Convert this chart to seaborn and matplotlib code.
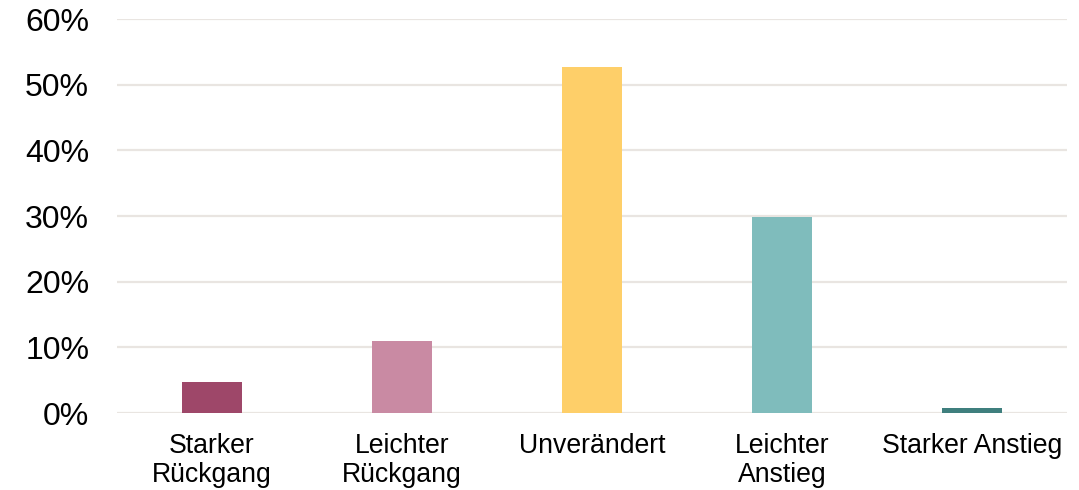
import matplotlib
matplotlib.use("Agg")
import matplotlib.pyplot as plt
import seaborn as sns
import pandas as pd
from matplotlib.ticker import FuncFormatter

categories = ["Starker\nRückgang", "Leichter\nRückgang", "Unverändert", "Leichter\nAnstieg", "Starker Anstieg"]
shares = [4.7, 11.0, 52.7, 29.9, 0.8]
colors = ["#9E4769", "#C98AA3", "#FECF69", "#7FBCBC", "#3F7F7E"]
y_ticks = [0, 10, 20, 30, 40, 50, 60]

sns.set_theme(style="white")
plt.rcParams["font.family"] = ["Liberation Sans", "DejaVu Sans"]

df = pd.DataFrame({"Kategorie": categories, "Anteil": shares})

fig = plt.figure(figsize=(10.79, 4.90), dpi=100)
ax = fig.add_axes([0.1084, 0.157, 0.8805, 0.804])

sns.barplot(data=df, x="Kategorie", y="Anteil", hue="Kategorie",
            palette=colors, width=0.316, legend=False, ax=ax,
            saturation=1, edgecolor="none", linewidth=0)

ax.set_ylim(0, 60)
ax.set_xlim(-0.5, len(categories) - 0.5)
ax.set_yticks(y_ticks)
ax.yaxis.set_major_formatter(FuncFormatter(lambda v, _: f"{v:.0f}%"))
ax.set_axisbelow(True)
ax.yaxis.grid(True, color="#E9E5E1", linewidth=1.6)
ax.xaxis.grid(False)
for s in ax.spines.values():
    s.set_visible(False)
ax.set_xlabel("")
ax.set_ylabel("")
ax.tick_params(axis="y", length=0, pad=20, labelsize=23, labelcolor="#000000")
ax.tick_params(axis="x", length=0, pad=14, labelsize=19.2, labelcolor="#000000")
for lbl in ax.get_xticklabels():
    lbl.set_linespacing(1.17)

fig.savefig("out.png", dpi=100, facecolor="white")
